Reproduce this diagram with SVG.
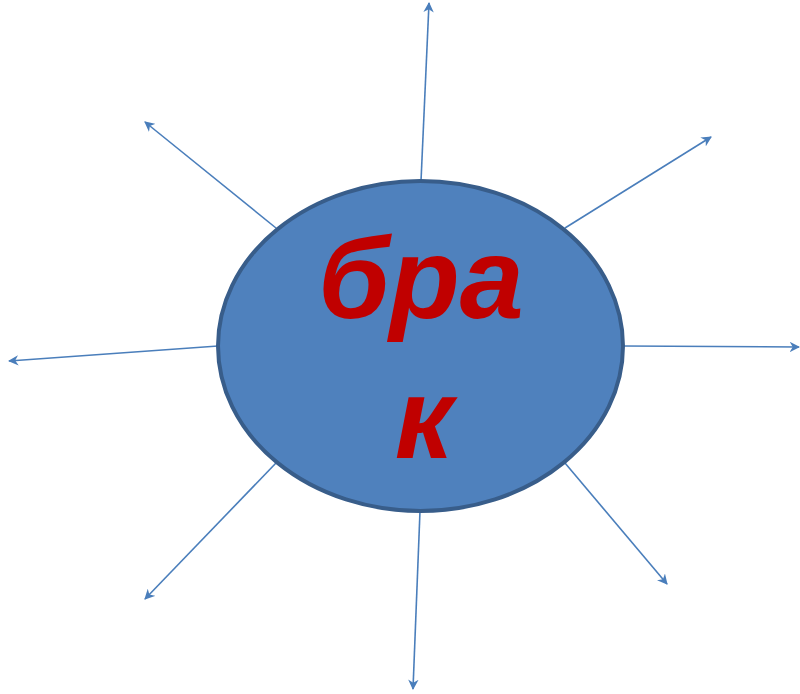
<svg xmlns="http://www.w3.org/2000/svg" width="800" height="694" viewBox="0 0 800 694">
<style>
.c line{stroke:#4a7ebb;stroke-width:1.6;fill:none;marker-end:url(#ah)}
.t{font-family:"Liberation Sans",Arial,sans-serif;font-weight:bold;font-style:italic;fill:#c00000;text-anchor:middle}
</style>
<defs>
<marker id="ah" viewBox="0 0 10 10" refX="9" refY="5" markerWidth="6.5" markerHeight="6.5" orient="auto" markerUnits="strokeWidth">
<path d="M0,0 L10,5 L0,10 L3,5 Z" fill="#4a7ebb"/>
</marker>
</defs>
<rect width="800" height="694" fill="#fff"/>
<g class="c" id="connectors">
<line x1="421" y1="181" x2="429" y2="3"/>
<line x1="565" y1="228" x2="711" y2="137"/>
<line x1="623" y1="346" x2="799" y2="347"/>
<line x1="565" y1="463" x2="667" y2="584"/>
<line x1="420" y1="511" x2="413" y2="689"/>
<line x1="276" y1="463" x2="145" y2="599"/>
<line x1="218" y1="346" x2="9" y2="361"/>
<line x1="276" y1="228" x2="145" y2="122"/>
</g>
<g id="center">
<ellipse cx="420.5" cy="346" rx="202.5" ry="165" fill="#4f81bd" stroke="#385d8a" stroke-width="4"/>
<text class="t" x="421" y="318" font-size="115">бра</text>
<text class="t" x="424" y="458" font-size="115">к</text>
</g>
</svg>
